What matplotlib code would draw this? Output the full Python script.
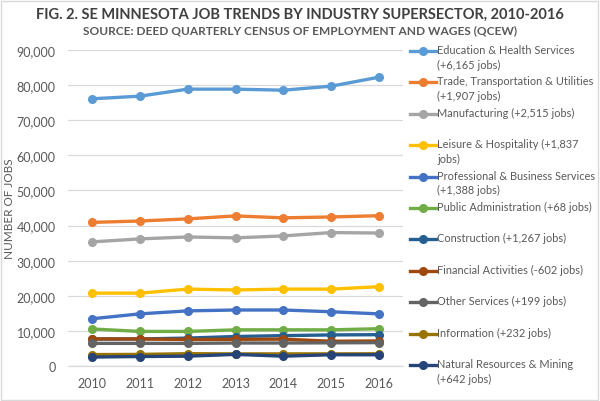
import matplotlib

matplotlib.use("Agg")
import matplotlib.pyplot as plt
from matplotlib.lines import Line2D
from matplotlib.patches import Rectangle


years = ["2010", "2011", "2012", "2013", "2014", "2015", "2016"]

education = [76100, 76850, 78850, 78850, 78550, 79700, 82265]
trade = [40900, 41300, 41900, 42750, 42200, 42450, 42800]
manufacturing = [35350, 36200, 36750, 36500, 37050, 38000, 37870]
leisure = [20750, 20750, 21900, 21650, 21900, 21900, 22590]
professional = [13450, 14850, 15700, 15950, 15950, 15450, 14840]
public_admin = [10550, 9850, 9850, 10300, 10300, 10300, 10620]
construction = [7650, 7700, 7950, 8400, 8650, 8850, 8920]
financial = [7740, 7700, 7550, 7600, 7650, 7050, 7140]
other_services = [6450, 6450, 6450, 6550, 6550, 6600, 6650]
information = [3250, 3300, 3500, 3450, 3450, 3450, 3480]
natural_resources = [2550, 2700, 2800, 3300, 2800, 3200, 3190]

series = [
    ("Education & Health Services\n(+6,165 jobs)", education, "#5B9BD5"),
    ("Trade, Transportation & Utilities\n(+1,907 jobs)", trade, "#ED7D31"),
    ("Manufacturing (+2,515 jobs)", manufacturing, "#A5A5A5"),
    ("Leisure & Hospitality (+1,837\njobs)", leisure, "#FFC000"),
    ("Professional & Business Services\n(+1,388 jobs)", professional, "#4472C4"),
    ("Public Administration (+68 jobs)", public_admin, "#70AD47"),
    ("Construction (+1,267 jobs)", construction, "#255E91"),
    ("Financial Activities (-602 jobs)", financial, "#9E480E"),
    ("Other Services (+199 jobs)", other_services, "#636363"),
    ("Information (+232 jobs)", information, "#997300"),
    ("Natural Resources & Mining\n(+642 jobs)", natural_resources, "#264478"),
]

y_ticks = [0, 10000, 20000, 30000, 40000, 50000, 60000, 70000, 80000, 90000]

W, H = 600, 402
TEXT_GRAY = "#595959"

plt.rcParams["font.family"] = ["Lato", "DejaVu Sans"]

fig = plt.figure(figsize=(W / 100, H / 100), dpi=100)
ax = fig.add_axes([68 / W, 1 - 367 / H, 335 / W, 316 / H])

x = range(len(years))
for label, values, color in series:
    ax.plot(x, values, color=color, linewidth=2.4, marker="o",
            markersize=5.5, solid_capstyle="round")

ax.set_xlim(-0.5, len(years) - 0.5)
ax.set_ylim(0, 90000)
ax.set_yticks(y_ticks)
ax.set_yticklabels([f"{v:,}" for v in y_ticks])
ax.set_xticks(list(x))
ax.set_xticklabels(years)
ax.tick_params(length=0, labelsize=9, colors=TEXT_GRAY)
ax.tick_params(axis="y", pad=9)
ax.tick_params(axis="x", pad=8)
ax.grid(axis="y", color="#D9D9D9", linewidth=0.9)
ax.set_axisbelow(True)
for side in ["top", "right", "left"]:
    ax.spines[side].set_visible(False)
ax.spines["bottom"].set_color("#D9D9D9")
ax.spines["bottom"].set_linewidth(0.9)

ax.set_ylabel("NUMBER OF JOBS", fontsize=8.5, color=TEXT_GRAY)
ax.yaxis.set_label_coords(-(68 - 15) / 335, 0.5)

fig.text(0.5, 1 - 15 / H, "FIG. 2. SE MINNESOTA JOB TRENDS BY INDUSTRY SUPERSECTOR, 2010-2016",
         ha="center", va="center", fontsize=10.5, fontweight="bold", color="#404040")
fig.text(0.5, 1 - 31 / H, "SOURCE: DEED QUARTERLY CENSUS OF EMPLOYMENT AND WAGES (QCEW)",
         ha="center", va="center", fontsize=8.6, fontweight="bold", color=TEXT_GRAY)

# legend drawn by hand so the handle sits on the first text line
for i, (label, values, color) in enumerate(series):
    y_px = 52 + i * 31.4
    yf = 1 - y_px / H
    fig.add_artist(Line2D([410 / W, 436 / W], [yf, yf], color=color, linewidth=2.4,
                          transform=fig.transFigure))
    fig.add_artist(Line2D([423 / W], [yf], color=color, marker="o", markersize=5.5,
                          transform=fig.transFigure))
    fig.text(437 / W, 1 - (y_px - 7) / H, label, ha="left", va="top",
             fontsize=7.9, color=TEXT_GRAY, linespacing=1.42)

fig.add_artist(Rectangle((1 / W, 1 / H), (W - 3) / W, (H - 3) / H, fill=False,
                         edgecolor="#D9D9D9", linewidth=1, transform=fig.transFigure))

fig.savefig("out.png", dpi=100)
